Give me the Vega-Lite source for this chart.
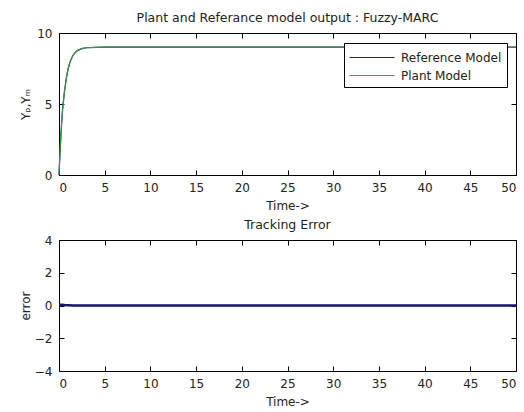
{
  "$schema": "https://vega.github.io/schema/vega-lite/v6.json",
  "background": "white",
  "padding": {"left": 18, "top": 11, "right": 9, "bottom": 2},
  "spacing": 6,
  "config": {
    "font": "DejaVu Sans",
    "view": {"stroke": "#000", "strokeWidth": 1},
    "axis": {"grid": false, "domain": false, "tickColor": "#000", "tickSize": -5, "labelColor": "#222", "labelFont": "DejaVu Sans", "labelFontSize": 12, "titleFont": "DejaVu Sans", "titleFontSize": 12, "titleFontWeight": "normal", "titleColor": "#222", "labelPadding": 12},
    "title": {"font": "DejaVu Sans", "fontSize": 12.5, "fontWeight": "normal", "color": "#222", "offset": 3}
  },
  "datasets": {
    "resp": [
      {"t": 0, "y": 0, "s": "Reference Model"},
      {"t": 0.1, "y": 1.5, "s": "Reference Model"},
      {"t": 0.2, "y": 2.7, "s": "Reference Model"},
      {"t": 0.3, "y": 3.8, "s": "Reference Model"},
      {"t": 0.4, "y": 4.7, "s": "Reference Model"},
      {"t": 0.5, "y": 5.3, "s": "Reference Model"},
      {"t": 0.6, "y": 5.9, "s": "Reference Model"},
      {"t": 0.8, "y": 6.8, "s": "Reference Model"},
      {"t": 1.0, "y": 7.5, "s": "Reference Model"},
      {"t": 1.2, "y": 7.95, "s": "Reference Model"},
      {"t": 1.5, "y": 8.4, "s": "Reference Model"},
      {"t": 1.8, "y": 8.65, "s": "Reference Model"},
      {"t": 2.0, "y": 8.76, "s": "Reference Model"},
      {"t": 2.5, "y": 8.9, "s": "Reference Model"},
      {"t": 3.0, "y": 8.96, "s": "Reference Model"},
      {"t": 4.0, "y": 8.99, "s": "Reference Model"},
      {"t": 5.0, "y": 9.0, "s": "Reference Model"},
      {"t": 50, "y": 9.0, "s": "Reference Model"},
      {"t": 0, "y": 0, "s": "Plant Model"},
      {"t": 0.1, "y": 1.45, "s": "Plant Model"},
      {"t": 0.2, "y": 2.65, "s": "Plant Model"},
      {"t": 0.3, "y": 3.75, "s": "Plant Model"},
      {"t": 0.4, "y": 4.65, "s": "Plant Model"},
      {"t": 0.5, "y": 5.27, "s": "Plant Model"},
      {"t": 0.6, "y": 5.88, "s": "Plant Model"},
      {"t": 0.8, "y": 6.78, "s": "Plant Model"},
      {"t": 1.0, "y": 7.48, "s": "Plant Model"},
      {"t": 1.2, "y": 7.94, "s": "Plant Model"},
      {"t": 1.5, "y": 8.4, "s": "Plant Model"},
      {"t": 1.8, "y": 8.65, "s": "Plant Model"},
      {"t": 2.0, "y": 8.76, "s": "Plant Model"},
      {"t": 2.5, "y": 8.9, "s": "Plant Model"},
      {"t": 3.0, "y": 8.96, "s": "Plant Model"},
      {"t": 4.0, "y": 8.99, "s": "Plant Model"},
      {"t": 5.0, "y": 9.0, "s": "Plant Model"},
      {"t": 50, "y": 9.0, "s": "Plant Model"}
    ],
    "err": [
      {"t": 0, "e": 0.05},
      {"t": 0.3, "e": 0.05},
      {"t": 0.6, "e": 0.03},
      {"t": 1.0, "e": 0.02},
      {"t": 1.5, "e": 0.0},
      {"t": 50, "e": 0.0}
    ]
  },
  "vconcat": [
    {
      "width": 457,
      "height": 142,
      "title": {"text": "Plant and Referance model output : Fuzzy-MARC"},
      "data": {"name": "resp"},
      "layer": [
        {
          "mark": {"type": "line", "strokeWidth": 1.2},
          "encoding": {
            "x": {"field": "t", "type": "quantitative", "scale": {"domain": [0, 50], "nice": false}, "axis": {"values": [0,5,10,15,20,25,30,35,40,45,50], "title": "Time->", "titlePadding": 7}},
            "y": {"field": "y", "type": "quantitative", "scale": {"domain": [0, 10], "nice": false}, "axis": {"values": [0,5,10], "title": "Yₚ,Yₘ", "minExtent": 24, "maxExtent": 24, "titlePadding": 3}},
            "color": {"field": "s", "type": "nominal", "sort": ["Reference Model", "Plant Model"], "scale": {"domain": ["Reference Model", "Plant Model"], "range": ["#1c1c8a", "#3a9a3a"]},
              "legend": {"title": null, "orient": "none", "legendX": 285, "legendY": 10, "symbolType": "M-1,0H4", "symbolSize": 324, "symbolStrokeWidth": 1, "strokeColor": "#000", "fillColor": "white", "padding": 5, "labelFontSize": 12, "labelFont": "DejaVu Sans", "labelColor": "#222", "rowPadding": 2, "labelOffset": 33}},
            "order": {"field": "s", "sort": "descending"}
          }
        },
        {
          "mark": {"type": "line", "opacity": 0},
          "encoding": {
            "x": {"field": "t", "type": "quantitative", "scale": {"domain": [0, 50], "nice": false}, "axis": {"orient": "top", "values": [0,5,10,15,20,25,30,35,40,45,50], "labels": false, "title": null}},
            "y": {"field": "y", "type": "quantitative", "scale": {"domain": [0, 10], "nice": false}, "axis": {"orient": "right", "values": [0,5,10], "labels": false, "title": null}}
          }
        }
      ],
      "resolve": {"axis": {"x": "independent", "y": "independent"}}
    },
    {
      "width": 457,
      "height": 131,
      "title": {"text": "Tracking Error"},
      "data": {"name": "err"},
      "layer": [
        {
          "mark": {"type": "line", "strokeWidth": 2.5, "color": "#10108c"},
          "encoding": {
            "x": {"field": "t", "type": "quantitative", "scale": {"domain": [0, 50], "nice": false}, "axis": {"values": [0,5,10,15,20,25,30,35,40,45,50], "title": "Time->", "titlePadding": 7}},
            "y": {"field": "e", "type": "quantitative", "scale": {"domain": [-4, 4], "nice": false}, "axis": {"values": [-4,-2,0,2,4], "title": "error", "minExtent": 24, "maxExtent": 24, "titlePadding": 3}}
          }
        },
        {
          "mark": {"type": "line", "opacity": 0},
          "encoding": {
            "x": {"field": "t", "type": "quantitative", "scale": {"domain": [0, 50], "nice": false}, "axis": {"orient": "top", "values": [0,5,10,15,20,25,30,35,40,45,50], "labels": false, "title": null}},
            "y": {"field": "e", "type": "quantitative", "scale": {"domain": [-4, 4], "nice": false}, "axis": {"orient": "right", "values": [-4,-2,0,2,4], "labels": false, "title": null}}
          }
        }
      ],
      "resolve": {"axis": {"x": "independent", "y": "independent"}}
    }
  ]
}
